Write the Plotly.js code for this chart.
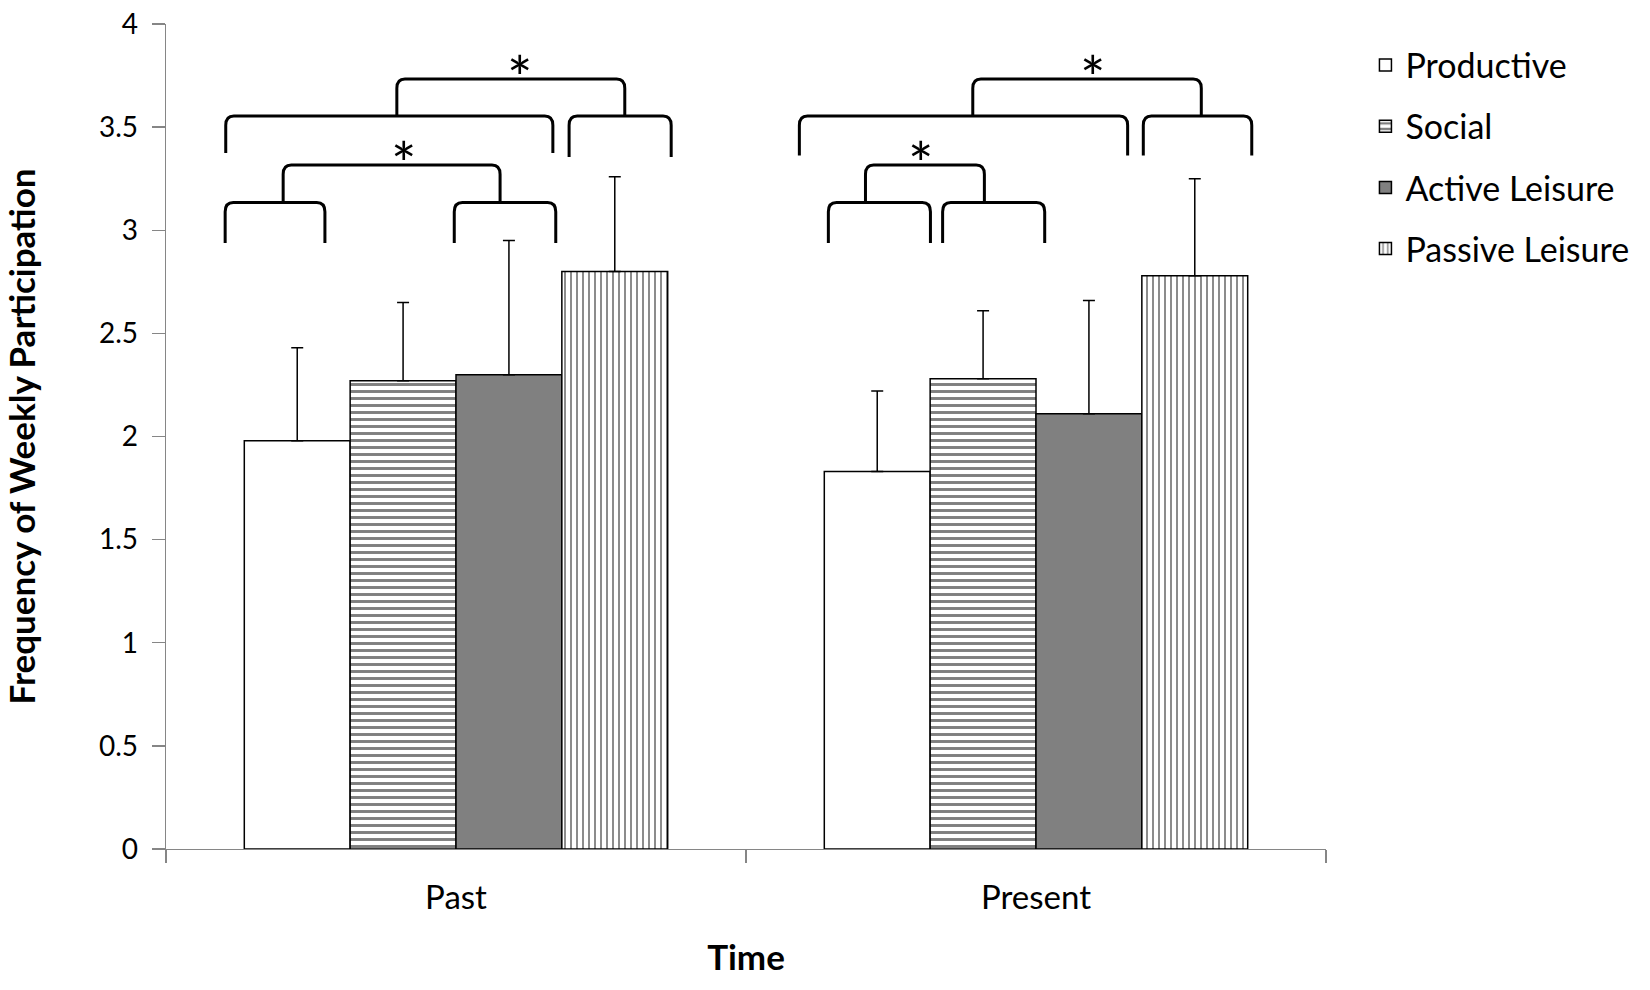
<!DOCTYPE html>
<html>
<head>
<meta charset="utf-8">
<script src="https://cdn.plot.ly/plotly-3.0.1.min.js"></script>
<style>html,body{margin:0;padding:0;background:#fff;}#chart{width:1650px;height:990px;}</style>
</head>
<body>
<div id="chart"></div>
<script>
// ---- data ----
const categories = ['Past', 'Present'];
const seriesNames = ['Productive', 'Social', 'Active Leisure', 'Passive Leisure'];
const productive = [1.98, 1.83];
const social = [2.27, 2.28];
const activeLeisure = [2.30, 2.11];
const passiveLeisure = [2.80, 2.78];
const productiveErr = [0.45, 0.39];
const socialErr = [0.38, 0.33];
const activeLeisureErr = [0.65, 0.55];
const passiveLeisureErr = [0.46, 0.47];
const yTickVals = [0, 0.5, 1, 1.5, 2, 2.5, 3, 3.5, 4];
const yTickText = ['0', '0.5', '1', '1.5', '2', '2.5', '3', '3.5', '4'];
const starLabel = '*';

// ---- significance brackets (annotation geometry, category index + offset) ----
const brackets = [
  // Past
  [0, -0.398, -0.226, 3.135, 2.938],
  [0, -0.003, 0.172, 3.135, 2.938],
  [0, -0.298, 0.076, 3.316, 3.135],
  [0, -0.397, 0.167, 3.554, 3.374],
  [0, 0.195, 0.371, 3.554, 3.355],
  [0, -0.102, 0.291, 3.733, 3.554],
  // Present
  [1, -0.358, -0.182, 3.135, 2.938],
  [1, -0.161, 0.015, 3.135, 2.938],
  [1, -0.294, -0.089, 3.316, 3.135],
  [1, -0.408, 0.158, 3.554, 3.362],
  [1, 0.185, 0.372, 3.554, 3.362],
  [1, -0.109, 0.285, 3.733, 3.554]
];
const stars = [
  [0, -0.090, 3.316],
  [0, 0.110, 3.733],
  [1, -0.199, 3.316],
  [1, 0.099, 3.733]
];

const FONT = 'Lato, "Open Sans", sans-serif';
const outline = {color: '#000', width: 1.5};
function errs(arr) {
  return {type: 'data', symmetric: false, array: arr, arrayminus: arr.map(() => 0),
          color: '#000', thickness: 1.5, width: 6, visible: true};
}

const traces = [
  {type: 'bar', name: seriesNames[0], x: categories, y: productive, legendgroup: 'g0',
   marker: {color: '#ffffff', line: outline}, error_y: errs(productiveErr)},
  {type: 'bar', name: seriesNames[1], x: categories, y: social, legendgroup: 'g1',
   marker: {color: '#ffffff', line: outline,
            pattern: {shape: '-', fgcolor: '#000', bgcolor: '#fff', size: 7, solidity: 0.42, fillmode: 'overlay'}},
   error_y: errs(socialErr)},
  {type: 'bar', name: seriesNames[2], x: categories, y: activeLeisure, legendgroup: 'g2',
   marker: {color: '#808080', line: outline}, error_y: errs(activeLeisureErr)},
  {type: 'bar', name: seriesNames[3], x: categories, y: passiveLeisure, legendgroup: 'g3',
   marker: {color: '#ffffff', line: outline,
            pattern: {shape: '|', fgcolor: '#000', bgcolor: '#fff', size: 6, solidity: 0.3, fillmode: 'overlay'}},
   error_y: errs(passiveLeisureErr)}
];

const rx = 0.014, ry = 0.045;
const shapes = brackets.map(b => {
  const x0 = b[0] + b[1], x1 = b[0] + b[2], yt = b[3], yb = b[4];
  const path = `M${x0},${yb} L${x0},${yt - ry} Q${x0},${yt} ${x0 + rx},${yt} ` +
               `L${x1 - rx},${yt} Q${x1},${yt} ${x1},${yt - ry} L${x1},${yb}`;
  return {type: 'path', xref: 'x', yref: 'y', path: path, line: {color: '#000', width: 3}};
});

const annotations = stars.map(s => ({
  xref: 'x', yref: 'y', x: s[0] + s[1], y: s[2], text: starLabel, showarrow: false,
  xanchor: 'center', yanchor: 'bottom', yshift: -36,
  font: {family: FONT, size: 60, color: '#000'}
}));

const layout = {
  width: 1650, height: 990,
  margin: {l: 166, r: 324, t: 24, b: 141, pad: 0},
  paper_bgcolor: '#fff', plot_bgcolor: '#fff',
  font: {family: FONT, color: '#000'},
  barmode: 'group', bargap: 0.27, bargroupgap: 0,
  showlegend: true,
  legend: {x: 1.034, y: 0.985, xanchor: 'left', yanchor: 'top',
           font: {family: FONT, size: 34, color: '#000'}, tracegroupgap: 14,
           bgcolor: 'rgba(0,0,0,0)', borderwidth: 0, traceorder: 'grouped'},
  xaxis: {type: 'category', tickson: 'boundaries', ticks: 'outside', ticklen: 13,
          tickcolor: '#868686', tickwidth: 1.3, showline: true, linecolor: '#868686', linewidth: 1.3,
          showgrid: false, zeroline: false, range: [-0.5, 1.5],
          tickfont: {family: FONT, size: 33, color: '#000'}, ticklabelstandoff: 19,
          title: {text: 'Time', font: {family: FONT, size: 35, color: '#000', weight: 'bold'}, standoff: 30}},
  yaxis: {range: [0, 4], tickmode: 'array', tickvals: yTickVals, ticktext: yTickText,
          ticks: 'outside', ticklen: 13, tickcolor: '#868686', tickwidth: 1.3,
          showline: true, linecolor: '#868686', linewidth: 1.3, showgrid: false, zeroline: false,
          tickfont: {family: FONT, size: 28, color: '#000'}, ticklabelstandoff: 8,
          title: {text: 'Frequency of Weekly Participation',
                  font: {family: FONT, size: 35, color: '#000', weight: 'bold'}, standoff: 60}},
  shapes: shapes,
  annotations: annotations
};

Plotly.newPlot('chart', traces, layout, {displayModeBar: false, staticPlot: true});
</script>
</body>
</html>
